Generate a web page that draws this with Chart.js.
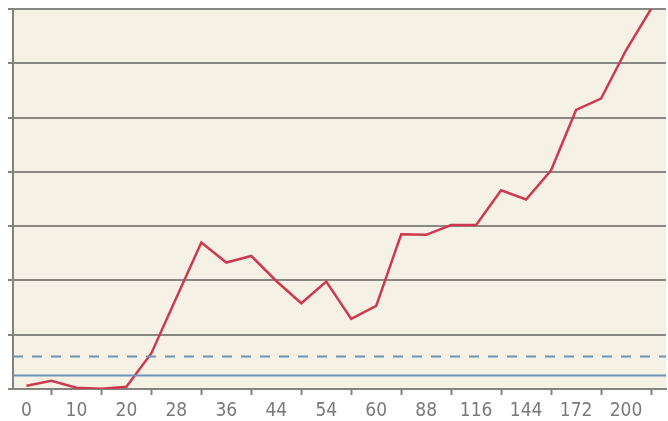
<!DOCTYPE html>
<html>
<head>
<meta charset="utf-8">
<script src="https://cdn.jsdelivr.net/npm/chart.js@4.4.1/dist/chart.umd.min.js"></script>
<style>
  html, body { margin: 0; padding: 0; background: #ffffff; }
  #wrap { width: 668px; height: 421px; position: relative; }
</style>
</head>
<body>
<div id="wrap"><canvas id="c" width="668" height="421"></canvas></div>
<script>
// Category labels for each data point (only every other one is shown on the axis)
const categories = ['0','5','10','15','20','24','28','32','36','40','44','49','54','57','60','74','88','102','116','130','144','158','172','186','200','214'];
// Red series values
const seriesValues = [0.6, 1.5, 0.25, 0.05, 0.4, 6.6, 16.8, 27.0, 23.3, 24.5, 19.9, 15.8, 19.8, 12.9, 15.3, 28.5, 28.4, 30.2, 30.2, 36.6, 34.9, 40.3, 51.4, 53.5, 62.4, 70];
// Reference lines
const dashedLevel = [6];
const solidLevel = [2.5];
// Y axis gridline values
const yTicks = [0, 10, 20, 30, 40, 50, 60, 70];

const xMin = -0.54, xMax = 25.6;

const bgPlugin = {
  id: 'plotBg',
  beforeDraw(chart) {
    const { ctx, chartArea: a } = chart;
    ctx.save();
    ctx.fillStyle = '#f5f2e5';
    ctx.fillRect(a.left, a.top, a.right - a.left, a.bottom - a.top);
    ctx.restore();
  }
};

const redData = seriesValues.map((v, i) => ({ x: i, y: v }));
const dashData = [{ x: xMin, y: dashedLevel[0] }, { x: xMax, y: dashedLevel[0] }];
const solidData = [{ x: xMin, y: solidLevel[0] }, { x: xMax, y: solidLevel[0] }];

new Chart(document.getElementById('c'), {
  type: 'line',
  data: {
    datasets: [
      { data: solidData, borderColor: '#6b93b5', borderWidth: 2, pointRadius: 0, tension: 0 },
      { data: dashData, borderColor: '#6b93b5', borderWidth: 2, borderDash: [10, 9], pointRadius: 0, tension: 0 },
      { data: redData, borderColor: '#cc3a4f', borderWidth: 2.5, pointRadius: 0, tension: 0 }
    ]
  },
  options: {
    responsive: false,
    animation: false,
    events: [],
    layout: { padding: { top: 9, right: 2, left: 0, bottom: 0 } },
    plugins: { legend: { display: false }, tooltip: { enabled: false } },
    scales: {
      x: {
        type: 'linear',
        min: xMin,
        max: xMax,
        afterBuildTicks(scale) {
          scale.ticks = categories.map((c, i) => ({ value: i }));
        },
        afterFit(scale) { scale.height = 32; },
        border: { display: true, color: '#85837e', width: 2 },
        grid: {
          drawOnChartArea: false,
          drawTicks: true,
          tickLength: 6,
          tickWidth: 2,
          tickColor: (ctx) => (ctx.index % 2 === 1 ? '#85837e' : 'rgba(0,0,0,0)')
        },
        ticks: {
          autoSkip: false,
          maxRotation: 0,
          padding: 5,
          color: '#7a7a7a',
          font: { family: "'Liberation Sans Narrow', 'DejaVu Sans Condensed', 'Roboto', sans-serif", size: 19 },
          callback: (v, i) => (i % 2 === 0 ? categories[i] : '')
        }
      },
      y: {
        min: 0,
        max: 70,
        afterBuildTicks(scale) {
          scale.ticks = yTicks.map(v => ({ value: v }));
        },
        afterFit(scale) { scale.width = 13; },
        border: { display: true, color: '#85837e', width: 2 },
        grid: {
          color: '#8a8883',
          lineWidth: 2,
          drawTicks: true,
          tickLength: 5,
          tickColor: '#85837e'
        },
        ticks: { display: false }
      }
    }
  },
  plugins: [bgPlugin]
});
</script>
</body>
</html>
